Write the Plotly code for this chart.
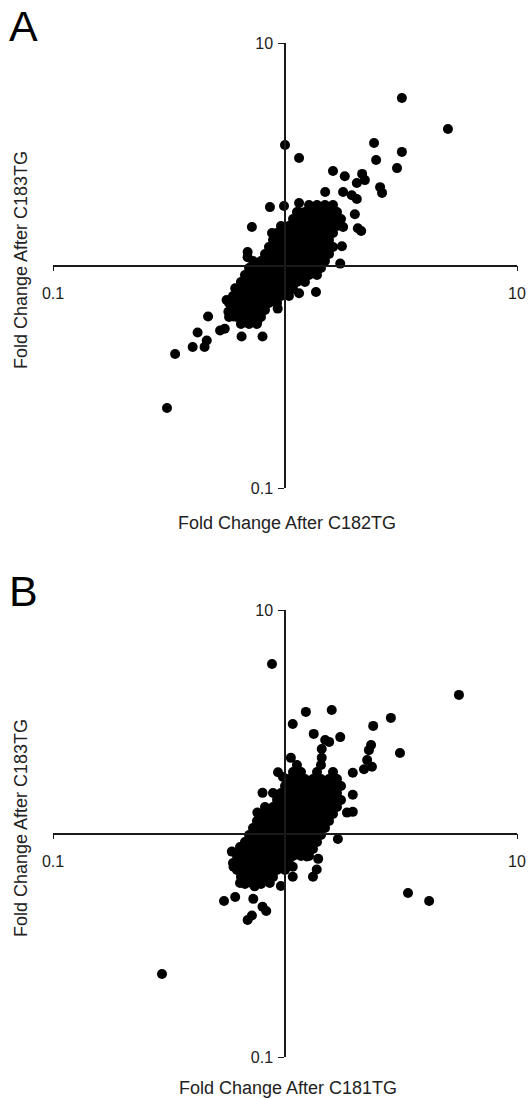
import plotly.graph_objects as go

W, H = 529, 1099
FONT = "Liberation Sans, Arial, sans-serif"
INK = "#1a1a1a"

# ---------------- Panel A data (fold changes) ----------------
a_out_x = [1.00, 1.15, 3.19, 5.04, 2.42, 3.19, 2.47, 3.04, 1.61, 1.81, 2.15, 2.21, 2.04, 2.57, 2.62,
           1.49, 1.78, 1.94, 2.04, 0.861, 0.99, 1.15, 1.15, 2.00, 0.72, 0.879, 2.06, 2.13, 1.78, 1.76,
           1.73, 0.69, 0.69, 1.36, 1.15, 0.93, 0.80, 0.65, 0.76, 0.466, 0.42, 0.525, 0.55, 0.46, 0.45,
           0.40, 0.336, 0.31, 0.56, 0.57, 0.61, 0.60]
a_out_y = [3.48, 3.04, 5.66, 4.11, 3.55, 3.24, 2.98, 2.74, 2.66, 2.52, 2.58, 2.42, 2.35, 2.25, 2.12,
           2.14, 2.14, 2.07, 1.99, 1.83, 1.85, 1.91, 1.74, 1.70, 1.49, 1.40, 1.47, 1.43, 1.49, 1.22,
           1.02, 1.15, 1.09, 0.76, 0.75, 0.64, 0.48, 0.48, 0.56, 0.59, 0.50, 0.51, 0.52, 0.46, 0.43,
           0.43, 0.40, 0.229, 0.70, 0.62, 0.79, 0.59]

blob_a_y = [1.871, 1.740, 1.618, 1.505, 1.400, 1.302, 1.211, 1.126, 1.048, 0.974, 0.906, 0.843,
            0.784, 0.729, 0.678, 0.631, 0.587, 0.546]
blob_a_x = [
    [1.269, 1.374, 1.487, 1.610],
    [1.126, 1.219, 1.320, 1.429, 1.548, 1.675],
    [1.083, 1.172, 1.269, 1.374, 1.487, 1.610, 1.743],
    [0.961, 1.040, 1.126, 1.219, 1.320, 1.429, 1.548, 1.675],
    [0.924, 1.000, 1.083, 1.172, 1.269, 1.374, 1.487, 1.610],
    [0.888, 0.961, 1.040, 1.126, 1.219, 1.320, 1.429, 1.548],
    [0.853, 0.924, 1.000, 1.083, 1.172, 1.269, 1.374, 1.487, 1.610],
    [0.820, 0.888, 0.961, 1.040, 1.126, 1.219, 1.320, 1.429, 1.548],
    [0.728, 0.788, 0.853, 0.924, 1.000, 1.083, 1.172, 1.269, 1.374, 1.487],
    [0.700, 0.757, 0.820, 0.888, 0.961, 1.040, 1.126, 1.219, 1.320, 1.429],
    [0.672, 0.728, 0.788, 0.853, 0.924, 1.000, 1.083, 1.172, 1.269, 1.374],
    [0.646, 0.700, 0.757, 0.820, 0.888, 0.961, 1.040, 1.126, 1.219],
    [0.621, 0.672, 0.728, 0.788, 0.853, 0.924, 1.000, 1.083],
    [0.597, 0.646, 0.700, 0.757, 0.820, 0.888, 0.961, 1.040],
    [0.574, 0.621, 0.672, 0.728, 0.788, 0.853, 0.924],
    [0.597, 0.646, 0.700, 0.757, 0.820],
    [0.574, 0.621, 0.672, 0.728, 0.788],
    [0.646, 0.700, 0.757],
]

# ---------------- Panel B data (fold changes) ----------------
b_out_x = [0.879, 5.62, 1.59, 1.23, 1.08, 2.86, 2.40, 1.33, 1.73, 1.49, 1.55, 1.44, 2.35, 2.30, 3.13,
           1.06, 1.44, 2.26, 2.37, 2.19, 1.96, 0.933, 0.98, 0.80, 1.96, 1.96, 1.85, 0.76, 1.69, 1.39,
           1.37, 1.32, 1.08, 3.39, 4.18, 0.96, 0.546, 0.61, 0.73, 0.80, 0.83, 0.72, 0.69, 0.295, 0.59,
           0.64, 0.64, 0.60, 0.74, 0.86, 1.08, 1.24]
b_out_y = [5.73, 4.17, 3.57, 3.50, 3.09, 3.29, 3.03, 2.79, 2.70, 2.62, 2.57, 2.39, 2.49, 2.36, 2.29,
           2.18, 2.18, 2.13, 1.99, 1.94, 1.87, 1.88, 1.79, 1.52, 1.49, 1.25, 1.24, 1.24, 0.945, 0.77,
           0.69, 0.64, 0.64, 0.542, 0.499, 0.582, 0.499, 0.52, 0.51, 0.47, 0.45, 0.43, 0.41, 0.235, 0.83,
           0.87, 0.60, 0.71, 0.58, 0.60, 0.71, 0.79]

blob_b_y = [2.026, 1.884, 1.753, 1.631, 1.518, 1.412, 1.314, 1.222, 1.137, 1.058, 0.985, 0.916,
            0.852, 0.793, 0.738, 0.687, 0.639, 0.594]
blob_b_x = [
    [1.126, 1.429],
    [1.083, 1.172, 1.374, 1.610],
    [1.040, 1.126, 1.219, 1.320, 1.429, 1.548, 1.675],
    [1.000, 1.083, 1.172, 1.269, 1.374, 1.487, 1.610, 1.743],
    [0.888, 0.961, 1.040, 1.126, 1.219, 1.320, 1.429, 1.548, 1.675],
    [0.924, 1.000, 1.083, 1.172, 1.269, 1.374, 1.487, 1.610, 1.743],
    [0.820, 0.888, 0.961, 1.040, 1.126, 1.219, 1.320, 1.429, 1.548, 1.675],
    [0.788, 0.853, 0.924, 1.000, 1.083, 1.172, 1.269, 1.374, 1.487, 1.610],
    [0.757, 0.820, 0.888, 0.961, 1.040, 1.126, 1.219, 1.320, 1.429, 1.548],
    [0.728, 0.788, 0.853, 0.924, 1.000, 1.083, 1.172, 1.269, 1.374, 1.487],
    [0.700, 0.757, 0.820, 0.888, 0.961, 1.040, 1.126, 1.219, 1.320, 1.429],
    [0.672, 0.728, 0.788, 0.853, 0.924, 1.000, 1.083, 1.172, 1.269, 1.374],
    [0.646, 0.700, 0.757, 0.820, 0.888, 0.961, 1.040, 1.126, 1.219, 1.320],
    [0.621, 0.672, 0.728, 0.788, 0.853, 0.924, 1.000, 1.083, 1.172, 1.269],
    [0.597, 0.646, 0.700, 0.757, 0.820, 0.888, 0.961, 1.040],
    [0.621, 0.672, 0.728, 0.788, 0.853, 0.924, 1.000],
    [0.646, 0.700, 0.757, 0.820, 0.888],
    [0.672, 0.728, 0.788],
]

tick_vals = [0.1, 10]
tick_text = ["0.1", "10"]
x_title_a = "Fold Change After C182TG"
x_title_b = "Fold Change After C181TG"
y_title = "Fold Change After C183TG"
panel_labels = ["A", "B"]


def flatten(rows_x, rows_y):
    xs, ys = [], []
    for rx, ry in zip(rows_x, rows_y):
        for v in rx:
            xs.append(v)
            ys.append(ry)
    return xs, ys


ax_x, ax_y = flatten(blob_a_x, blob_a_y)
bx_x, bx_y = flatten(blob_b_x, blob_b_y)

fig = go.Figure()
mk = dict(color="black", size=10, line=dict(width=0))
fig.add_trace(go.Scatter(x=ax_x + a_out_x, y=ax_y + a_out_y, mode="markers", marker=mk,
                         xaxis="x", yaxis="y", cliponaxis=False, showlegend=False))
fig.add_trace(go.Scatter(x=bx_x + b_out_x, y=bx_y + b_out_y, mode="markers", marker=mk,
                         xaxis="x2", yaxis="y2", cliponaxis=False, showlegend=False))

xdom = [53 / W, 517 / W]
ypos = 285 / W
dom_a = [1 - 488 / H, 1 - 43 / H]
dom_b = [1 - 1057 / H, 1 - 610 / H]
xpos_a = 1 - 265.5 / H
xpos_b = 1 - 833.5 / H

tickfont = dict(family=FONT, size=16, color="#222")


def xaxis(pos):
    return dict(type="log", range=[-1, 1], domain=xdom, anchor="free", position=pos,
                automargin=False,
                showline=True, linecolor=INK, linewidth=1.5, showgrid=False, zeroline=False,
                ticks="outside", ticklen=5, tickwidth=1, tickcolor=INK,
                tickvals=tick_vals, ticktext=tick_text, tickfont=tickfont,
                ticklabelstandoff=9, fixedrange=True)


def yaxis(dom):
    return dict(type="log", range=[-1, 1], domain=dom, anchor="free", position=ypos,
                automargin=False,
                showline=True, linecolor=INK, linewidth=1.5, showgrid=False, zeroline=False,
                ticks="outside", ticklen=6, tickwidth=1, tickcolor=INK,
                tickvals=tick_vals, ticktext=tick_text, tickfont=tickfont,
                ticklabelstandoff=2, fixedrange=True)


ann_font = dict(family=FONT, size=18, color="#222")
annotations = [
    dict(text=x_title_a, x=287 / W, y=1 - 523 / H, xref="paper", yref="paper",
         showarrow=False, font=ann_font, xanchor="center", yanchor="middle"),
    dict(text=x_title_b, x=288 / W, y=1 - 1088 / H, xref="paper", yref="paper",
         showarrow=False, font=ann_font, xanchor="center", yanchor="middle"),
    dict(text=y_title, x=21 / W, y=1 - 260 / H, xref="paper", yref="paper", textangle=-90,
         showarrow=False, font=ann_font, xanchor="center", yanchor="middle"),
    dict(text=y_title, x=21 / W, y=1 - 828 / H, xref="paper", yref="paper", textangle=-90,
         showarrow=False, font=ann_font, xanchor="center", yanchor="middle"),
    dict(text=panel_labels[0], x=7 / W, y=1 - 26 / H, xref="paper", yref="paper",
         showarrow=False, font=dict(family=FONT, size=43, color="black"),
         xanchor="left", yanchor="middle"),
    dict(text=panel_labels[1], x=7 / W, y=1 - 591 / H, xref="paper", yref="paper",
         showarrow=False, font=dict(family=FONT, size=43, color="black"),
         xanchor="left", yanchor="middle"),
]

fig.update_layout(
    width=W, height=H, margin=dict(l=0, r=0, t=0, b=0, pad=0, autoexpand=False),
    paper_bgcolor="white", plot_bgcolor="white",
    xaxis=xaxis(xpos_a), yaxis=yaxis(dom_a),
    xaxis2=xaxis(xpos_b), yaxis2=yaxis(dom_b),
    annotations=annotations, showlegend=False,
)

fig.write_html("out.html", config={"displayModeBar": False})
